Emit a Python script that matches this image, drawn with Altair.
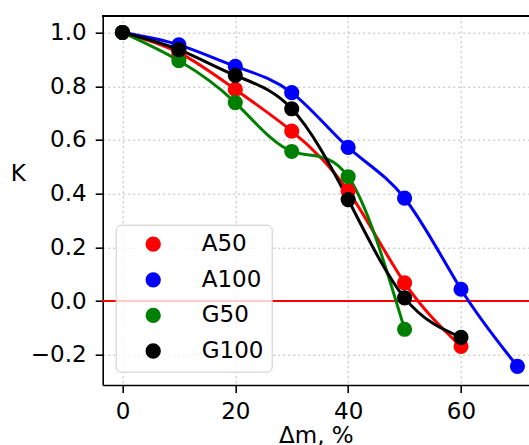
import altair as alt
import pandas as pd

series_names = ["A50", "A100", "G50", "G100"]
series_colors = ["red", "blue", "green", "black"]

x_a50 = [0, 10, 20, 30, 40, 50, 60]
k_a50 = [1.0, 0.925, 0.788, 0.633, 0.41, 0.068, -0.169]

x_a100 = [0, 10, 20, 30, 40, 50, 60, 70]
k_a100 = [1.0, 0.954, 0.874, 0.776, 0.572, 0.383, 0.044, -0.243]

x_g50 = [0, 10, 20, 30, 40, 50]
k_g50 = [1.0, 0.895, 0.739, 0.557, 0.463, -0.105]

x_g100 = [0, 10, 20, 30, 40, 50, 60]
k_g100 = [1.0, 0.936, 0.840, 0.716, 0.378, 0.012, -0.135]

rows = []
for order, (name, xs, ks) in enumerate(zip(series_names,
                                          [x_a50, x_a100, x_g50, x_g100],
                                          [k_a50, k_a100, k_g50, k_g100])):
    for xv, kv in zip(xs, ks):
        rows.append({"series": name, "dm": xv, "K": kv, "order": order})
df = pd.DataFrame(rows)

W = 426.3
H = 369.3
FONT = "DejaVu Sans"
FS = 23

x_scale = alt.Scale(domain=[-3.5, 72.05], nice=False, zero=False)
y_scale = alt.Scale(domain=[-0.3125, 1.0625], nice=False, zero=False)
color_scale = alt.Scale(domain=series_names, range=series_colors)

x_axis = alt.Axis(values=[0, 20, 40, 60], format="d", title="Δm, %",
                  grid=True, gridColor="#b8b8b8", gridDash=[2, 3], gridWidth=1,
                  domainColor="black", domainWidth=1.6,
                  tickColor="black", tickSize=7.5, tickWidth=1.6,
                  labelFont=FONT, labelFontSize=FS, labelColor="black",
                  labelPadding=8, titleFont=FONT, titleFontSize=FS,
                  titleFontWeight="normal", titleColor="black", titlePadding=1)
y_axis = alt.Axis(values=[-0.2, 0.0, 0.2, 0.4, 0.6, 0.8, 1.0], format=".1f",
                  title="K", titleAngle=0, titleX=-85, titleY=158,
                  titleAlign="center", titleBaseline="middle",
                  grid=True, gridColor="#b8b8b8", gridDash=[2, 3], gridWidth=1,
                  domainColor="black", domainWidth=1.6,
                  tickColor="black", tickSize=7.5, tickWidth=1.6,
                  labelFont=FONT, labelFontSize=FS, labelColor="black",
                  labelPadding=9, titleFont=FONT, titleFontSize=FS,
                  titleFontWeight="normal", titleColor="black")

legend = alt.Legend(title=None, orient="none", legendX=13, legendY=209,
                    labelFont=FONT, labelFontSize=FS, labelColor="black",
                    symbolType="circle", symbolSize=235,
                    symbolStrokeWidth=0, symbolOpacity=1, symbolFillColor=None,
                    symbolOffset=18, labelOffset=37,
                    rowPadding=11.6, padding=8,
                    fillColor="rgba(255,255,255,0.8)",
                    strokeColor="#cccccc", cornerRadius=5)

base = alt.Chart(df)

zero_line = base.mark_rule(color="red", strokeWidth=1).encode(
    y=alt.datum(0, scale=y_scale, axis=y_axis)
)

lines = base.mark_line(interpolate="natural", strokeWidth=3, clip=True).encode(
    x=alt.X("dm:Q", scale=x_scale, axis=x_axis),
    y=alt.Y("K:Q", scale=y_scale, axis=y_axis),
    color=alt.Color("series:N", scale=color_scale, legend=legend),
    detail="series:N",
    order="dm:Q",
)

points = base.mark_circle(size=230, opacity=1, clip=True).encode(
    x=alt.X("dm:Q", scale=x_scale, axis=x_axis),
    y=alt.Y("K:Q", scale=y_scale, axis=y_axis),
    color=alt.Color("series:N", scale=color_scale, legend=legend),
)

top_border = base.mark_rule(color="black", strokeWidth=1.5).encode(
    x=alt.value(0), x2=alt.value(W), y=alt.value(0)
)

chart = alt.layer(zero_line, lines, points, top_border).properties(
    width=W, height=H,
    autosize=alt.AutoSizeParams(type="none"),
    padding={"left": 102.7, "top": 15.7, "right": 0, "bottom": 60},
).configure_view(strokeWidth=0)

chart.save("out.html", embed_options={"renderer": "svg", "actions": False})
